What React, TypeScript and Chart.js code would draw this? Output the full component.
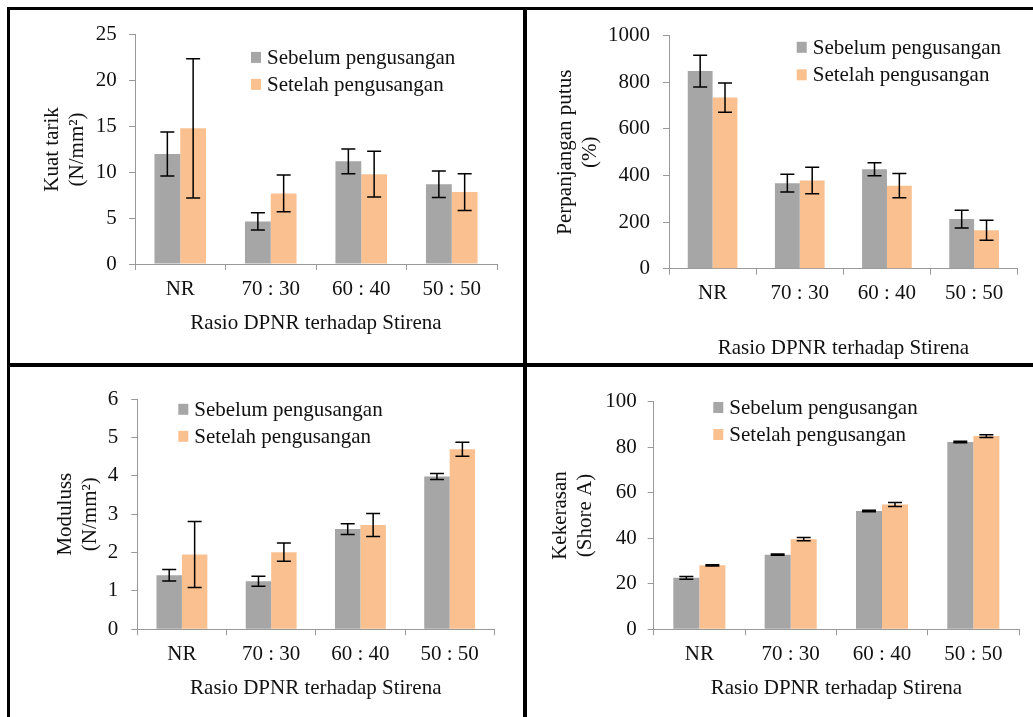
import React, { useEffect, useRef } from 'react';
import { Chart, registerables } from 'chart.js';

Chart.register(...registerables);

// ---------- data ----------
const categories = ['NR', '70 : 30', '60 : 40', '50 : 50'];
const seriesNames = ['Sebelum pengusangan', 'Setelah pengusangan'];
const xAxisTitle = 'Rasio DPNR terhadap Stirena';

const tensileBefore = [12.0, 4.65, 11.2, 8.7];
const tensileBeforeErr = [2.4, 0.95, 1.35, 1.45];
const tensileAfter = [14.8, 7.7, 9.8, 7.85];
const tensileAfterErr = [7.6, 2.0, 2.5, 2.0];

const elongBefore = [848, 367, 427, 213];
const elongBeforeErr = [68, 38, 28, 38];
const elongAfter = [734, 378, 356, 165];
const elongAfterErr = [63, 57, 52, 43];

const modBefore = [1.41, 1.25, 2.61, 3.98];
const modBeforeErr = [0.15, 0.13, 0.14, 0.08];
const modAfter = [1.95, 2.01, 2.72, 4.69];
const modAfterErr = [0.86, 0.24, 0.3, 0.18];

const hardBefore = [22.6, 32.8, 52.0, 82.3];
const hardBeforeErr = [0.6, 0.3, 0.3, 0.3];
const hardAfter = [28.1, 39.6, 54.8, 84.9];
const hardAfterErr = [0.3, 0.7, 0.9, 0.6];

const tensileTitle = ['Kuat tarik', '(N/mm²)'];
const elongTitle = ['Perpanjangan putus', '(%)'];
const modTitle = ['Moduluss', '(N/mm²)'];
const hardTitle = ['Kekerasan', '(Shore A)'];

// ---------- styles ----------
const GRAY = '#a6a6a6';
const ORANGE = '#fac090';
const AXIS = '#999999';
const TEXT = '#111111';
const FONT = "'Liberation Serif', 'Times New Roman', serif";
const FS = 21;

function errorBarPlugin() {
  return {
    id: 'errorBars',
    afterDatasetsDraw(chart: any) {
      const ctx = chart.ctx;
      const ys = chart.scales.y;
      ctx.save();
      ctx.strokeStyle = '#000';
      ctx.lineWidth = 1.5;
      chart.data.datasets.forEach((ds: any, d: number) => {
        const meta = chart.getDatasetMeta(d);
        meta.data.forEach((el: any, i: number) => {
          const v = ds.data[i];
          const e = ds.errors[i];
          const yt = ys.getPixelForValue(v + e);
          const yb = ys.getPixelForValue(v - e);
          const x = el.x;
          const c = 7;
          ctx.beginPath();
          ctx.moveTo(x, yt);
          ctx.lineTo(x, yb);
          ctx.moveTo(x - c, yt);
          ctx.lineTo(x + c, yt);
          ctx.moveTo(x - c, yb);
          ctx.lineTo(x + c, yb);
          ctx.stroke();
        });
      });
      ctx.restore();
    },
  };
}

function insideLegendPlugin(dx: number, dy: number, gap: number) {
  return {
    id: 'insideLegend',
    afterDraw(chart: any) {
      const { ctx, chartArea } = chart;
      ctx.save();
      ctx.font = `${FS}px ${FONT}`;
      ctx.textBaseline = 'middle';
      ctx.textAlign = 'left';
      chart.data.datasets.forEach((ds: any, d: number) => {
        const x = chartArea.left + dx;
        const yc = chartArea.top + dy + d * gap;
        ctx.fillStyle = ds.backgroundColor;
        ctx.fillRect(x, yc - 5.5, 10, 11);
        ctx.fillStyle = TEXT;
        ctx.fillText(ds.label, x + 16, yc + 1);
      });
      ctx.restore();
    },
  };
}

type PanelProps = {
  x: number; y: number; w: number; h: number;
  padTop: number; padRight: number;
  yWidth: number; xHeight: number;
  yTitle: string[]; yTitlePad: number; yTickPad: number;
  xTitlePad: number;
  max: number; step: number;
  before: number[]; beforeErr: number[];
  after: number[]; afterErr: number[];
  legend: [number, number, number];
};

function Panel(p: PanelProps) {
  const ref = useRef<HTMLCanvasElement>(null);
  useEffect(() => {
    const font = { family: FONT, size: FS, lineHeight: 1.2 };
    const chart = new Chart(ref.current as HTMLCanvasElement, {
      type: 'bar',
      data: {
        labels: categories,
        datasets: [
          { label: seriesNames[0], data: p.before, errors: p.beforeErr, backgroundColor: GRAY, borderWidth: 0, categoryPercentage: 0.57, barPercentage: 1 } as any,
          { label: seriesNames[1], data: p.after, errors: p.afterErr, backgroundColor: ORANGE, borderWidth: 0, categoryPercentage: 0.57, barPercentage: 1 } as any,
        ],
      },
      options: {
        animation: false,
        responsive: false,
        devicePixelRatio: 1,
        layout: { padding: { top: p.padTop, right: p.padRight, left: 0, bottom: 0 } },
        plugins: { legend: { display: false }, tooltip: { enabled: false } },
        scales: {
          x: {
            ticks: { padding: 6.4, color: TEXT, font },
            grid: { drawOnChartArea: false, drawTicks: true, tickLength: 6, color: AXIS, offset: true },
            border: { display: true, color: AXIS, width: 1 },
            title: { display: true, text: xAxisTitle, color: TEXT, font, padding: { top: 0, bottom: p.xTitlePad } },
            afterFit: (s: any) => { s.height = p.xHeight; },
          },
          y: {
            min: 0,
            max: p.max,
            ticks: { stepSize: p.step, padding: p.yTickPad, color: TEXT, font, callback: (v: any) => String(v) },
            grid: { drawOnChartArea: false, drawTicks: true, tickLength: 6, color: AXIS },
            border: { display: true, color: AXIS, width: 1 },
            title: { display: true, text: p.yTitle, color: TEXT, font, padding: { top: p.yTitlePad, bottom: 0 } },
            afterFit: (s: any) => { s.width = p.yWidth; },
          },
        },
      } as any,
      plugins: [errorBarPlugin(), insideLegendPlugin(p.legend[0], p.legend[1], p.legend[2])],
    });
    return () => chart.destroy();
  }, []);
  return (
    <canvas
      ref={ref}
      width={p.w}
      height={p.h}
      style={{ position: 'absolute', left: p.x, top: p.y, width: p.w, height: p.h }}
    />
  );
}

const line = (left: number, top: number, width: number, height: number) => (
  <div style={{ position: 'absolute', left, top, width, height, background: '#000' }} />
);

export default function App() {
  return (
    <div style={{ position: 'absolute', left: 0, top: 0, width: 1033, height: 717, background: '#fff', overflow: 'hidden' }}>
      <Panel x={10} y={10} w={513} h={353} padTop={23} padRight={26} yWidth={125} xHeight={99}
        yTitle={tensileTitle} yTitlePad={29.4} yTickPad={12.3} xTitlePad={27.4}
        max={25} step={5} before={tensileBefore} beforeErr={tensileBeforeErr}
        after={tensileAfter} afterErr={tensileAfterErr} legend={[116, 22.5, 27]} />
      <Panel x={527} y={10} w={506} h={353} padTop={24.3} padRight={15.3} yWidth={142} xHeight={94.3}
        yTitle={elongTitle} yTitlePad={25.4} yTickPad={13} xTitlePad={2.1}
        max={1000} step={200} before={elongBefore} beforeErr={elongBeforeErr}
        after={elongAfter} afterErr={elongAfterErr} legend={[127.7, 11.7, 27.5]} />
      <Panel x={10} y={367} w={513} h={350} padTop={32} padRight={28.7} yWidth={127.3} xHeight={87.7}
        yTitle={modTitle} yTitlePad={42.4} yTickPad={13} xTitlePad={16.1}
        max={6} step={1} before={modBefore} beforeErr={modBeforeErr}
        after={modAfter} afterErr={modAfterErr} legend={[41, 10.3, 27]} />
      <Panel x={527} y={367} w={506} h={350} padTop={34.7} padRight={14} yWidth={126.7} xHeight={87.7}
        yTitle={hardTitle} yTitlePad={20.5} yTickPad={11} xTitlePad={16.4}
        max={100} step={20} before={hardBefore} beforeErr={hardBeforeErr}
        after={hardAfter} afterErr={hardAfterErr} legend={[59.6, 5.8, 27]} />
      {line(7, 7, 1026, 3)}
      {line(7, 7, 3, 710)}
      {line(523, 7, 4, 710)}
      {line(7, 363, 1026, 4)}
    </div>
  );
}
